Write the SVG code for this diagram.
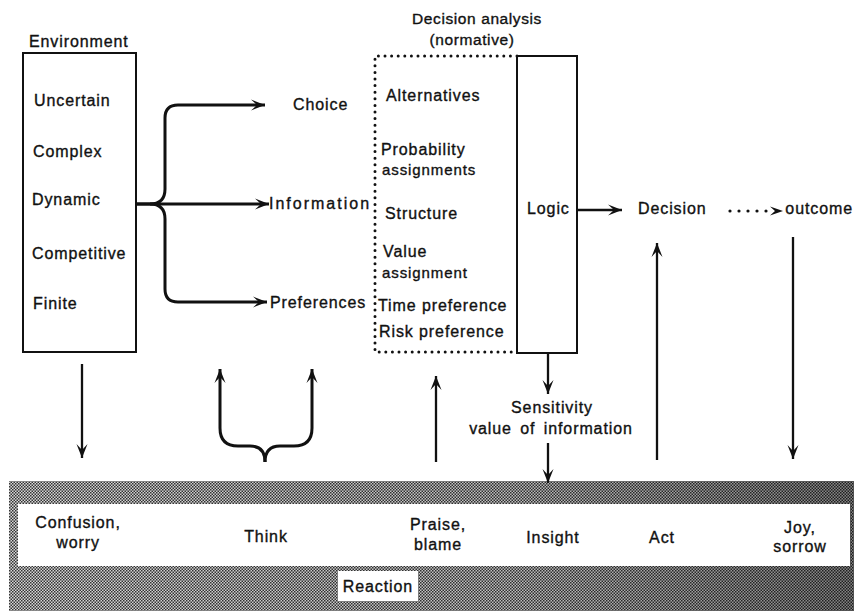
<svg xmlns="http://www.w3.org/2000/svg" width="854" height="611" viewBox="0 0 854 611">
<defs>
<style>
text{font-family:"Liberation Sans",Arial,sans-serif;font-size:16px;letter-spacing:0.9px;fill:#111;stroke:#111;stroke-width:0.35}
.c{text-anchor:middle}
.e{text-anchor:end}
.s{font-size:15px}
.t{font-size:15.5px;letter-spacing:0.6px}
.ln{fill:none;stroke:#111;stroke-width:2.3}
.th{fill:none;stroke:#111;stroke-width:3}
.dot{fill:none;stroke:#111;stroke-width:3;stroke-linecap:round;stroke-dasharray:0 6.6}
.dot2{fill:none;stroke:#111;stroke-width:3.2;stroke-linecap:round;stroke-dasharray:0 9}
.box{fill:none;stroke:#111;stroke-width:2}
</style>
<marker id="ah" viewBox="-15 -7 16 14" refX="0" refY="0" markerWidth="16" markerHeight="14" markerUnits="userSpaceOnUse" orient="auto">
<path d="M0,0 L-14,-5.5 L-8,0 L-14,5.5 Z" fill="#111"/>
</marker>
<marker id="ao" viewBox="-15 -7 16 14" refX="0" refY="0" markerWidth="16" markerHeight="14" markerUnits="userSpaceOnUse" orient="auto">
<path d="M0,0 L-13,-4.5 L-8,0 L-13,4.5 Z" fill="#111"/>
</marker>
<pattern id="ht" width="3" height="3" patternUnits="userSpaceOnUse">
<rect width="3" height="3" fill="#d8d8d8"/>
<rect width="1.5" height="1.5" fill="#333"/>
<rect x="1.5" y="1.5" width="1.5" height="1.5" fill="#333"/>
</pattern>
<linearGradient id="sh" x1="0" y1="0" x2="1" y2="0">
<stop offset="0" stop-color="#000" stop-opacity="0"/>
<stop offset="0.6" stop-color="#000" stop-opacity="0.12"/>
<stop offset="1" stop-color="#000" stop-opacity="0.4"/>
</linearGradient>
</defs>
<rect width="854" height="611" fill="#fff"/>

<g id="reaction-band">
<rect x="9" y="481" width="845" height="130" fill="url(#ht)"/>
<rect x="9" y="481" width="845" height="130" fill="url(#sh)"/>
<rect x="18" y="504" width="832" height="62" fill="#fff"/>
<rect x="338" y="571" width="80" height="30" fill="#fff"/>
<text x="378" y="592" class="c">Reaction</text>
</g>

<g id="environment">
<text x="29" y="47">Environment</text>
<rect x="23" y="53" width="113" height="299" class="box"/>
<text x="34" y="106">Uncertain</text>
<text x="33" y="157">Complex</text>
<text x="32" y="205">Dynamic</text>
<text x="32" y="259">Competitive</text>
<text x="33" y="309">Finite</text>
</g>

<g id="choice"><text x="293" y="110">Choice</text></g>
<g id="information"><text x="269" y="209" textLength="101" lengthAdjust="spacing">Information</text></g>
<g id="preferences"><text x="270" y="308">Preferences</text></g>

<g id="decision-analysis">
<text x="477" y="24" class="c t">Decision analysis</text>
<text x="472" y="45" class="c t">(normative)</text>
<path d="M517,56 H375 V352 H517" class="dot"/>
<text x="386" y="101">Alternatives</text>
<text x="381" y="155">Probability</text>
<text x="382" y="175" class="s">assignments</text>
<text x="385" y="219">Structure</text>
<text x="383" y="257">Value</text>
<text x="382" y="278" class="s">assignment</text>
<text x="378" y="311">Time preference</text>
<text x="379" y="337">Risk preference</text>
</g>

<g id="logic">
<rect x="517" y="56" width="60" height="297" class="box"/>
<text x="527" y="214">Logic</text>
</g>

<g id="decision"><text x="638" y="214">Decision</text></g>
<g id="outcome"><text x="853" y="214" class="e">outcome</text></g>

<g id="sensitivity">
<text x="552" y="413" class="c">Sensitivity</text>
<text x="551" y="434" class="c" style="word-spacing:3px">value of information</text>
</g>

<g id="reaction-labels">
<text x="78" y="528" class="c">Confusion,</text>
<text x="78" y="548" class="c">worry</text>
<text x="266" y="542" class="c">Think</text>
<text x="438" y="530" class="c">Praise,</text>
<text x="438" y="550" class="c">blame</text>
<text x="553" y="543" class="c">Insight</text>
<text x="662" y="543" class="c">Act</text>
<text x="800" y="533" class="c">Joy,</text>
<text x="800" y="552" class="c">sorrow</text>
</g>

<g id="connectors">
<path d="M136,204 H150 Q165,204 165,189 V118 Q165,105 178,105 H265" class="th" marker-end="url(#ah)"/>
<path d="M136,204 H269" class="th" marker-end="url(#ah)"/>
<path d="M150,204 Q165,204 165,219 V289 Q165,302 178,302 H267" class="th" marker-end="url(#ah)"/>
<path d="M82,364 V458" class="ln" marker-end="url(#ah)"/>
<path d="M265,462 Q265,446 280,446 H294 Q312,446 312,428 V369" class="th" marker-end="url(#ah)"/>
<path d="M265,462 Q265,446 250,446 H238 Q220,446 220,428 V369" class="th" marker-end="url(#ah)"/>
<path d="M436,462 V376" class="ln" marker-end="url(#ah)"/>
<path d="M548,353 V394" class="ln" marker-end="url(#ah)"/>
<path d="M548,443 V483" class="ln" marker-end="url(#ah)"/>
<path d="M577,210 H622" class="ln" marker-end="url(#ah)"/>
<path d="M657,460 V243" class="ln" marker-end="url(#ah)"/>
<path d="M793,237 V459" class="ln" marker-end="url(#ah)"/>
<path d="M730,211 H767" class="dot2"/>
<path d="M768,211 H783" fill="none" stroke="none" marker-end="url(#ao)"/>
</g>
</svg>
